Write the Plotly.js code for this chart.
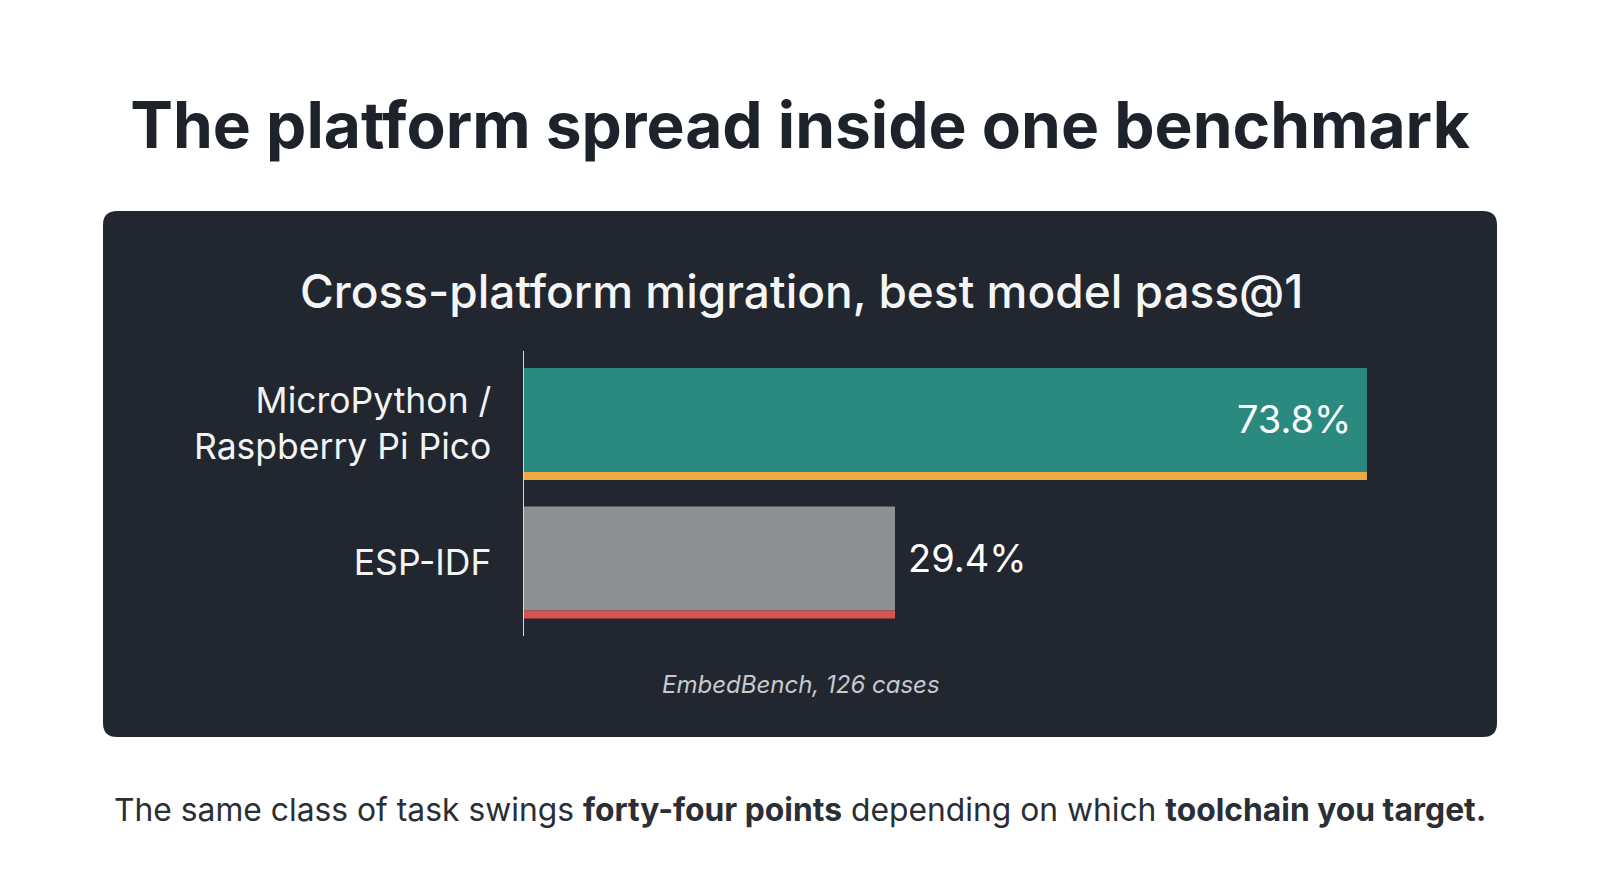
<!DOCTYPE html>
<html>
<head>
<meta charset="utf-8">
<script src="https://cdn.plot.ly/plotly-3.0.1.min.js"></script>
<style>
  html, body { margin: 0; padding: 0; background: #ffffff; }
  #chart { width: 1600px; height: 893px; }
</style>
</head>
<body>
<div id="chart"></div>
<script>
// ---- data ----
const categories = ["MicroPython /<br>Raspberry Pi Pico", "ESP-IDF"];
const passRates = [73.8, 29.4];
const valueLabels = ["73.8%", "29.4%"];
const barColors = ["#2a8a80", "#8e8f91"];
const stripColors = ["#efaa45", "#d9534e"];

const mainTitle = "The platform spread inside one benchmark";
const panelTitle = "Cross-platform migration, best model pass@1";
const caption = "EmbedBench, 126 cases";
const footnote = "The same class of task swings <b>forty-four points</b> depending on which <b>toolchain you target.</b>";

// ---- layout geometry (pixels) ----
const W = 1600, H = 893;
const plotL = 524, plotR = 1440, plotT = 351, plotB = 636;
const pw = plotR - plotL, ph = plotB - plotT;
const px = x => (x - plotL) / pw;
const py = y => (plotB - y) / ph;

const axisStart = -5.5;
const barW = 0.809, stripW = 0.058;

function roundRect(x0, y0, x1, y1, r) {
  const rx = r / pw, ry = r / ph;
  const a = px(x0), b = px(x1), t = py(y0), u = py(y1);
  return `M ${a + rx},${t} L ${b - rx},${t} Q ${b},${t} ${b},${t - ry} ` +
         `L ${b},${u + ry} Q ${b},${u} ${b - rx},${u} L ${a + rx},${u} ` +
         `Q ${a},${u} ${a},${u + ry} L ${a},${t - ry} Q ${a},${t} ${a + rx},${t} Z`;
}

const font = "Inter, 'Noto Sans', sans-serif";

const traces = [
  {
    type: "bar", orientation: "h",
    y: categories, x: passRates.map(v => v - axisStart), base: axisStart,
    width: barW - stripW, offset: -barW / 2,
    marker: { color: barColors, line: { width: 0 } },
    hoverinfo: "skip", showlegend: false
  },
  {
    type: "bar", orientation: "h",
    y: categories, x: passRates.map(v => v - axisStart), base: axisStart,
    width: stripW, offset: barW / 2 - stripW,
    marker: { color: stripColors, line: { width: 0 } },
    hoverinfo: "skip", showlegend: false
  }
];

const annotations = [
  { text: panelTitle, xref: "paper", yref: "paper", x: px(801), y: py(291), xanchor: "center", yanchor: "middle",
    showarrow: false, font: { family: font, size: 46, color: "#f4f5f6", weight: 500 } },
  { text: "<i>" + caption + "</i>", xref: "paper", yref: "paper", x: px(801), y: py(684), xanchor: "center", yanchor: "middle",
    showarrow: false, font: { family: font, size: 24, color: "#c6c9cf" } },
  { text: footnote, xref: "paper", yref: "paper", x: px(800), y: py(809), xanchor: "center", yanchor: "middle",
    showarrow: false, font: { family: font, size: 31.8, color: "#2a2e35" } },
  { text: valueLabels[0], x: passRates[0], y: categories[0], xref: "x", yref: "y", xanchor: "right", yanchor: "middle",
    xshift: -14, yshift: 5, showarrow: false, font: { family: font, size: 38, color: "#ffffff" } },
  { text: valueLabels[1], x: passRates[1], y: categories[1], xref: "x", yref: "y", xanchor: "left", yanchor: "middle",
    xshift: 11, yshift: 4, showarrow: false, font: { family: font, size: 38, color: "#ffffff" } }
];

const layout = {
  width: W, height: H,
  paper_bgcolor: "#ffffff",
  plot_bgcolor: "rgba(0,0,0,0)",
  margin: { l: plotL, r: W - plotR, t: plotT, b: H - plotB, pad: 0 },
  barmode: "overlay",
  title: {
    text: mainTitle, x: 0.5, xanchor: "center", xref: "container",
    y: 1 - 126 / H, yanchor: "middle", yref: "container",
    font: { family: font, size: 64, color: "#1e222b", weight: 700 }
  },
  xaxis: {
    range: [axisStart, axisStart + (plotR - plotL) / 10.63],
    visible: false, showgrid: false, zeroline: false, fixedrange: true
  },
  yaxis: {
    type: "category", range: [1.531, -0.527],
    showline: true, linecolor: "#d3d6da", linewidth: 1.5,
    showgrid: false, zeroline: false, ticks: "",
    ticklabelstandoff: 24,
    tickfont: { family: font, size: 35.5, color: "#f2f3f4" },
    fixedrange: true
  },
  shapes: [
    { type: "path", xref: "paper", yref: "paper", layer: "below",
      path: roundRect(103, 211, 1497, 737, 14),
      fillcolor: "#22262e", line: { width: 0 } }
  ],
  annotations: annotations,
  showlegend: false
};

Plotly.newPlot("chart", traces, layout, { displayModeBar: false, staticPlot: true });
</script>
</body>
</html>
